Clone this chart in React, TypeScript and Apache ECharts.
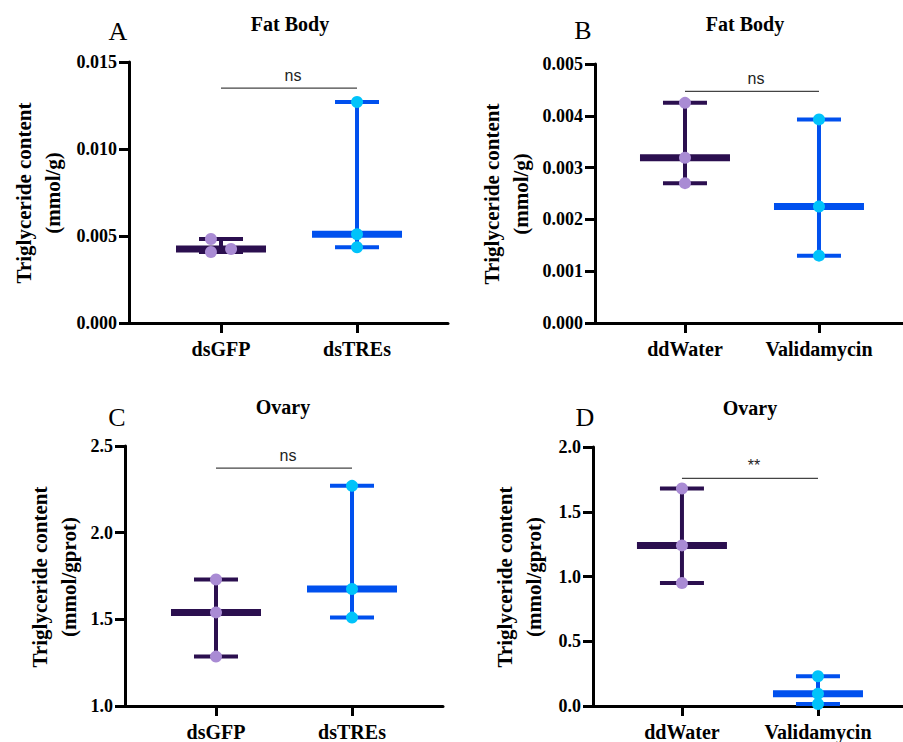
import React, { useEffect, useRef } from 'react';
import * as echarts from 'echarts';

// ---------- data ----------
const fatBodyRnaiGroups = ['dsGFP', 'dsTREs'];
const fatBodyRnaiDsGFP = [0.00483, 0.00408, 0.00425];
const fatBodyRnaiDsTREs = [0.0127, 0.0051, 0.00435];
const fatBodyRnaiYAxis = [0, 0.015, 0.005];

const fatBodyDrugGroups = ['ddWater', 'Validamycin'];
const fatBodyDrugDdWater = [0.00425, 0.00319, 0.0027];
const fatBodyDrugValidamycin = [0.00393, 0.00225, 0.0013];
const fatBodyDrugYAxis = [0, 0.005, 0.001];

const ovaryRnaiGroups = ['dsGFP', 'dsTREs'];
const ovaryRnaiDsGFP = [1.73, 1.54, 1.285];
const ovaryRnaiDsTREs = [2.27, 1.675, 1.51];
const ovaryRnaiYAxis = [1.0, 2.5, 0.5];

const ovaryDrugGroups = ['ddWater', 'Validamycin'];
const ovaryDrugDdWater = [1.68, 1.24, 0.95];
const ovaryDrugValidamycin = [0.23, 0.095, 0.015];
const ovaryDrugYAxis = [0, 2.0, 0.5];

const significanceLabels = ['ns', 'ns', 'ns', '**'];
const significanceLevels = [0.0135, 0.00447, 2.372, 1.757];

// ---------- styles / layout ----------
const lineColors = ['#2B0F4F', '#0050EE'];
const pointColors = ['#A98BD4', '#00C3FA'];
const SERIF = 'Liberation Serif';

const panels = [
  {
    letter: 'A', title: 'Fat Body', unit: '(mmol/g)', groups: fatBodyRnaiGroups,
    values: [fatBodyRnaiDsGFP, fatBodyRnaiDsTREs], yAxis: fatBodyRnaiYAxis, digits: 3,
    jitter: [[-0.074, -0.074, 0.074], [0, 0, 0]],
    grid: { left: 129, top: 62, width: 319, height: 261 }, xRange: [-0.6765, 1.669],
    letterPos: [118, 31], titlePos: [290, 24], yTitlePos: [38.5, 193],
  },
  {
    letter: 'B', title: 'Fat Body', unit: '(mmol/g)', groups: fatBodyDrugGroups,
    values: [fatBodyDrugDdWater, fatBodyDrugValidamycin], yAxis: fatBodyDrugYAxis, digits: 3,
    jitter: [[0, 0, 0], [0, 0, 0]],
    grid: { left: 595, top: 64, width: 308, height: 259 }, xRange: [-0.6716, 1.627],
    letterPos: [583, 30], titlePos: [745, 24], yTitlePos: [506, 194],
  },
  {
    letter: 'C', title: 'Ovary', unit: '(mmol/gprot)', groups: ovaryRnaiGroups,
    values: [ovaryRnaiDsGFP, ovaryRnaiDsTREs], yAxis: ovaryRnaiYAxis, digits: 1,
    jitter: [[0, 0, 0], [0, 0, 0]],
    grid: { left: 125, top: 446, width: 318, height: 261 }, xRange: [-0.669, 1.669],
    letterPos: [117, 417], titlePos: [283, 407], yTitlePos: [54, 577],
  },
  {
    letter: 'D', title: 'Ovary', unit: '(mmol/gprot)', groups: ovaryDrugGroups,
    values: [ovaryDrugDdWater, ovaryDrugValidamycin], yAxis: ovaryDrugYAxis, digits: 1,
    jitter: [[0, 0, 0], [0, 0, 0]],
    grid: { left: 593, top: 447, width: 310, height: 261 }, xRange: [-0.654, 1.625],
    letterPos: [585, 417], titlePos: [750, 408], yTitlePos: [519, 577],
  },
];

function median(a: number[]) {
  const s = [...a].sort((x, y) => x - y);
  return s[Math.floor(s.length / 2)];
}

function buildOption() {
  const grid: any[] = [];
  const xAxis: any[] = [];
  const yAxis: any[] = [];
  const series: any[] = [];
  const graphic: any[] = [];

  panels.forEach((p, i) => {
    grid.push({ ...p.grid });
    xAxis.push({
      gridIndex: i, type: 'value', min: p.xRange[0], max: p.xRange[1],
      axisLine: { show: true, onZero: false, lineStyle: { color: '#000', width: 3 } },
      axisTick: { show: true, customValues: [0, 1], length: 10, lineStyle: { color: '#000', width: 3 } },
      axisLabel: {
        show: true, customValues: [0, 1], formatter: (v: number) => p.groups[Math.round(v)] ?? '',
        fontFamily: SERIF, fontWeight: 'bold', fontSize: 20, color: '#000', margin: 16,
      },
      splitLine: { show: false },
    });
    yAxis.push({
      gridIndex: i, type: 'value', min: p.yAxis[0], max: p.yAxis[1], interval: p.yAxis[2],
      axisLine: { show: true, onZero: false, lineStyle: { color: '#000', width: 3 } },
      axisTick: { show: true, length: 10, lineStyle: { color: '#000', width: 3 } },
      axisLabel: {
        formatter: (v: number) => v.toFixed(p.digits),
        fontFamily: SERIF, fontWeight: 'bold', fontSize: 18, color: '#000', margin: 12,
      },
      splitLine: { show: false },
    });

    // median + range bars
    series.push({
      type: 'custom', xAxisIndex: i, yAxisIndex: i, z: 2, silent: true,
      data: p.values.map((vals, gi) => [gi, Math.min(...vals), median(vals), Math.max(...vals), gi]),
      renderItem: (_params: any, api: any) => {
        const x = api.value(0);
        const lo = api.coord([x, api.value(1)]);
        const med = api.coord([x, api.value(2)]);
        const hi = api.coord([x, api.value(3)]);
        const color = lineColors[api.value(4)];
        const st = (w: number) => ({ stroke: color, lineWidth: w, fill: null });
        return {
          type: 'group',
          children: [
            { type: 'line', shape: { x1: lo[0], y1: lo[1], x2: hi[0], y2: hi[1] }, style: st(4) },
            { type: 'line', shape: { x1: hi[0] - 22, y1: hi[1], x2: hi[0] + 22, y2: hi[1] }, style: st(4) },
            { type: 'line', shape: { x1: lo[0] - 22, y1: lo[1], x2: lo[0] + 22, y2: lo[1] }, style: st(4) },
            { type: 'line', shape: { x1: med[0] - 45, y1: med[1], x2: med[0] + 45, y2: med[1] }, style: st(7) },
          ],
        };
      },
    });

    // individual points
    p.values.forEach((vals, gi) => {
      series.push({
        type: 'scatter', xAxisIndex: i, yAxisIndex: i, z: 3, silent: true,
        symbol: 'circle', symbolSize: 12,
        itemStyle: { color: pointColors[gi], opacity: 1 },
        data: vals.map((v, k) => [gi + p.jitter[gi][k], v]),
      });
    });

    // significance bracket
    series.push({
      type: 'custom', xAxisIndex: i, yAxisIndex: i, z: 4, silent: true,
      data: [[0, 1, significanceLevels[i]]],
      renderItem: (_params: any, api: any) => {
        const a = api.coord([api.value(0), api.value(2)]);
        const b = api.coord([api.value(1), api.value(2)]);
        return {
          type: 'group',
          children: [
            { type: 'line', shape: { x1: a[0], y1: a[1], x2: b[0], y2: b[1] }, style: { stroke: '#444', lineWidth: 1.2 } },
            {
              type: 'text', x: (a[0] + b[0]) / 2 + 4, y: a[1] - 13,
              style: { text: significanceLabels[i], textAlign: 'center', textVerticalAlign: 'middle', font: 'normal 16px Liberation Sans', fill: '#222' },
            },
          ],
        };
      },
    });

    graphic.push(
      {
        type: 'text', x: p.letterPos[0], y: p.letterPos[1],
        style: { text: p.letter, textAlign: 'center', textVerticalAlign: 'middle', font: 'normal 26px Liberation Serif', fill: '#000' },
      },
      {
        type: 'text', x: p.titlePos[0], y: p.titlePos[1],
        style: { text: p.title, textAlign: 'center', textVerticalAlign: 'middle', font: 'bold 20px Liberation Serif', fill: '#000' },
      },
      {
        type: 'text', x: p.yTitlePos[0], y: p.yTitlePos[1], rotation: Math.PI / 2,
        style: {
          text: 'Triglyceride content\n' + p.unit, textAlign: 'center', textVerticalAlign: 'middle',
          font: 'bold 21px Liberation Serif', lineHeight: 29, fill: '#000',
        },
      },
    );
  });

  return { animation: false, backgroundColor: '#fff', grid, xAxis, yAxis, series, graphic };
}

export default function App() {
  const ref = useRef<HTMLDivElement>(null);
  useEffect(() => {
    if (!ref.current) return;
    const chart = echarts.init(ref.current, undefined, { renderer: 'svg' });
    chart.setOption(buildOption() as any);
    return () => chart.dispose();
  }, []);
  return <div ref={ref} style={{ position: 'absolute', left: 0, top: 0, width: 903, height: 742 }} />;
}
